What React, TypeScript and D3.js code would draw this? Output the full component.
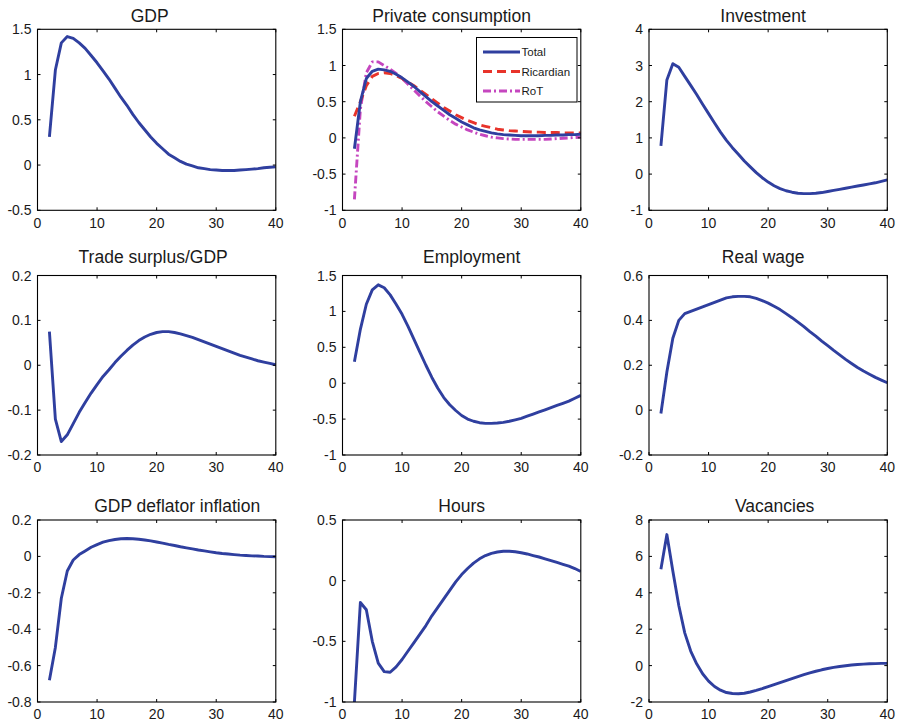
import React from "react";
import * as d3 from "d3";

const periods = d3.range(2, 41);

const gdp = [0.31,1.05,1.35,1.42,1.40,1.35,1.29,1.21,1.13,1.04,0.95,0.85,0.75,0.66,0.56,0.47,0.39,0.31,0.24,0.18,0.12,0.08,0.04,0.01,-0.01,-0.03,-0.04,-0.05,-0.055,-0.06,-0.06,-0.06,-0.055,-0.05,-0.045,-0.04,-0.03,-0.025,-0.02];
const consTotal = [-0.15,0.5,0.82,0.92,0.95,0.94,0.92,0.88,0.83,0.77,0.71,0.64,0.57,0.5,0.44,0.38,0.32,0.27,0.22,0.18,0.14,0.11,0.09,0.07,0.055,0.045,0.04,0.035,0.03,0.03,0.03,0.03,0.035,0.035,0.04,0.04,0.045,0.045,0.05];
const consRicardian = [0.3,0.5,0.72,0.85,0.89,0.9,0.89,0.86,0.82,0.77,0.72,0.66,0.6,0.54,0.48,0.42,0.37,0.32,0.28,0.24,0.21,0.18,0.16,0.14,0.12,0.11,0.1,0.095,0.09,0.085,0.08,0.08,0.075,0.075,0.075,0.07,0.07,0.07,0.07];
const consRoT = [-0.85,0.4,0.9,1.05,1.05,1.0,0.95,0.89,0.82,0.74,0.66,0.58,0.5,0.43,0.36,0.3,0.24,0.19,0.15,0.11,0.08,0.05,0.03,0.01,0.0,-0.01,-0.015,-0.02,-0.02,-0.02,-0.02,-0.02,-0.02,-0.015,-0.01,-0.005,0.0,0.005,0.01];
const investment = [0.78,2.6,3.05,2.95,2.7,2.45,2.2,1.93,1.67,1.41,1.16,0.93,0.73,0.55,0.36,0.2,0.04,-0.1,-0.22,-0.32,-0.4,-0.46,-0.5,-0.53,-0.54,-0.54,-0.53,-0.51,-0.48,-0.45,-0.42,-0.39,-0.36,-0.33,-0.3,-0.27,-0.24,-0.2,-0.16];
const tradeSurplus = [0.075,-0.12,-0.17,-0.155,-0.13,-0.105,-0.083,-0.062,-0.043,-0.025,-0.01,0.006,0.02,0.033,0.045,0.055,0.063,0.069,0.073,0.075,0.075,0.073,0.07,0.066,0.062,0.057,0.052,0.047,0.042,0.037,0.032,0.027,0.022,0.018,0.014,0.01,0.007,0.004,0.001];
const employment = [0.3,0.75,1.1,1.3,1.37,1.33,1.23,1.1,0.96,0.79,0.61,0.43,0.25,0.08,-0.07,-0.2,-0.3,-0.38,-0.45,-0.5,-0.53,-0.55,-0.56,-0.56,-0.555,-0.545,-0.53,-0.51,-0.49,-0.46,-0.43,-0.4,-0.37,-0.34,-0.31,-0.28,-0.25,-0.21,-0.17];
const realWage = [-0.015,0.17,0.32,0.4,0.43,0.44,0.45,0.46,0.47,0.48,0.49,0.5,0.505,0.507,0.507,0.505,0.498,0.488,0.477,0.463,0.448,0.43,0.412,0.392,0.372,0.35,0.33,0.308,0.287,0.266,0.246,0.226,0.208,0.19,0.174,0.16,0.146,0.134,0.122];
const deflatorInflation = [-0.68,-0.5,-0.23,-0.08,-0.02,0.01,0.03,0.05,0.065,0.078,0.087,0.093,0.097,0.098,0.097,0.094,0.09,0.085,0.079,0.073,0.066,0.06,0.053,0.047,0.041,0.035,0.03,0.025,0.02,0.016,0.013,0.01,0.007,0.005,0.003,0.002,0.0,-0.001,-0.002];
const hours = [-1.0,-0.18,-0.24,-0.5,-0.68,-0.75,-0.755,-0.71,-0.65,-0.58,-0.51,-0.44,-0.37,-0.29,-0.22,-0.15,-0.08,-0.01,0.05,0.1,0.145,0.18,0.207,0.225,0.236,0.242,0.243,0.238,0.23,0.22,0.207,0.195,0.18,0.165,0.15,0.135,0.12,0.1,0.075];
const vacancies = [5.3,7.2,5.2,3.3,1.8,0.8,0.1,-0.45,-0.85,-1.15,-1.35,-1.48,-1.53,-1.55,-1.52,-1.45,-1.36,-1.26,-1.15,-1.04,-0.93,-0.82,-0.71,-0.6,-0.5,-0.4,-0.31,-0.23,-0.16,-0.1,-0.05,-0.01,0.03,0.06,0.08,0.1,0.11,0.12,0.12];

const xTicks = [0, 10, 20, 30, 40];
const titles = ["GDP", "Private consumption", "Investment", "Trade surplus/GDP", "Employment", "Real wage", "GDP deflator inflation", "Hours", "Vacancies"];
const yTicksGdp = [-0.5, 0, 0.5, 1, 1.5];
const yTicksCons = [-1, -0.5, 0, 0.5, 1, 1.5];
const yTicksInv = [-1, 0, 1, 2, 3, 4];
const yTicksTrade = [-0.2, -0.1, 0, 0.1, 0.2];
const yTicksEmp = [-1, -0.5, 0, 0.5, 1, 1.5];
const yTicksWage = [-0.2, 0, 0.2, 0.4, 0.6];
const yTicksDefl = [-0.8, -0.6, -0.4, -0.2, 0, 0.2];
const yTicksHours = [-1, -0.5, 0, 0.5];
const yTicksVac = [-2, 0, 2, 4, 6, 8];
const legendLabels = ["Total", "Ricardian", "RoT"];

const BLUE = "#2f3f9f";
const RED = "#e8332a";
const MAGENTA = "#c546bf";

type Series = { values: number[]; color: string; dash?: string };
type Panel = { title: string; ticks: number[]; series: Series[]; titleDx: number; legend?: boolean };

const panels: Panel[] = [
  { title: titles[0], ticks: yTicksGdp, series: [{ values: gdp, color: BLUE }], titleDx: -7 },
  {
    title: titles[1], ticks: yTicksCons, titleDx: -10, legend: true,
    series: [
      { values: consRoT, color: MAGENTA, dash: "8,3,2,3" },
      { values: consRicardian, color: RED, dash: "9,5" },
      { values: consTotal, color: BLUE },
    ],
  },
  { title: titles[2], ticks: yTicksInv, series: [{ values: investment, color: BLUE }], titleDx: -5 },
  { title: titles[3], ticks: yTicksTrade, series: [{ values: tradeSurplus, color: BLUE }], titleDx: -3.5 },
  { title: titles[4], ticks: yTicksEmp, series: [{ values: employment, color: BLUE }], titleDx: 10 },
  { title: titles[5], ticks: yTicksWage, series: [{ values: realWage, color: BLUE }], titleDx: -5 },
  { title: titles[6], ticks: yTicksDefl, series: [{ values: deflatorInflation, color: BLUE }], titleDx: 20.5 },
  { title: titles[7], ticks: yTicksHours, series: [{ values: hours, color: BLUE }], titleDx: 0 },
  { title: titles[8], ticks: yTicksVac, series: [{ values: vacancies, color: BLUE }], titleDx: 6.5 },
];

const colLeft = [37.5, 342.5, 649];
const rowTop = [29.3, 275.5, 520];
const rowH = [181, 179.5, 182];
const titleBase = [22, 263, 512];
const PW = 238.3;
const FONT = "'Liberation Sans', Arial, Helvetica, sans-serif";
const TICK = 3;

function PanelView({ p, i }: { p: Panel; i: number }) {
  const col = i % 3, row = Math.floor(i / 3);
  const left = colLeft[col], top = rowTop[row], h = rowH[row];
  const x = d3.scaleLinear().domain([0, 40]).range([left, left + PW]);
  const y = d3.scaleLinear().domain([p.ticks[0], p.ticks[p.ticks.length - 1]]).range([top + h, top]);
  const line = d3.line<number>().x((_, k) => x(periods[k])).y((v) => y(v));
  const clipId = `clip${i}`;
  return (
    <g>
      <defs>
        <clipPath id={clipId}>
          <rect x={left} y={top} width={PW} height={h} />
        </clipPath>
      </defs>
      <text x={left + PW / 2 + p.titleDx} y={titleBase[row]} textAnchor="middle" fontSize={17.5} fill="#1a1a1a">{p.title}</text>
      <g clipPath={`url(#${clipId})`}>
        {p.series.map((s, k) => (
          <path key={k} d={line(s.values) || ""} fill="none" stroke={s.color} strokeWidth={2.9}
            strokeDasharray={s.dash} strokeLinejoin="round" strokeLinecap="butt" />
        ))}
      </g>
      <rect x={left} y={top} width={PW} height={h} fill="none" stroke="#000" strokeWidth={1.1} />
      {xTicks.map((t) => (
        <g key={"x" + t}>
          <line x1={x(t)} x2={x(t)} y1={top + h} y2={top + h - TICK} stroke="#000" />
          <line x1={x(t)} x2={x(t)} y1={top} y2={top + TICK} stroke="#000" />
          <text x={x(t)} y={top + h + 17.3} textAnchor="middle" fontSize={14} fill="#1a1a1a">{String(t)}</text>
        </g>
      ))}
      {p.ticks.map((t) => (
        <g key={"y" + t}>
          <line x1={left} x2={left + TICK} y1={y(t)} y2={y(t)} stroke="#000" />
          <line x1={left + PW} x2={left + PW - TICK} y1={y(t)} y2={y(t)} stroke="#000" />
          <text x={left - 6} y={y(t) + 5} textAnchor="end" fontSize={14} fill="#1a1a1a">{String(t)}</text>
        </g>
      ))}
      {p.legend && (
        <g>
          <rect x={476.5} y={37.5} width={100.5} height={64.5} fill="#fff" stroke="#000" strokeWidth={1} />
          {[
            { c: BLUE, d: undefined as string | undefined },
            { c: RED, d: "9,5" },
            { c: MAGENTA, d: "8,3,2,3" },
          ].map((e, k) => (
            <g key={k}>
              <line x1={483} x2={520} y1={52 + k * 19.5} y2={52 + k * 19.5} stroke={e.c} strokeWidth={2.9} strokeDasharray={e.d} />
              <text x={521.5} y={52 + k * 19.5 + 4} fontSize={11.5} fill="#1a1a1a">{legendLabels[k]}</text>
            </g>
          ))}
        </g>
      )}
    </g>
  );
}

export default function App() {
  return (
    <svg width={901} height={724} style={{ position: "absolute", left: 0, top: 0, background: "#fff" }} fontFamily={FONT}>
      <rect width={901} height={724} fill="#fff" />
      {panels.map((p, i) => <PanelView key={i} p={p} i={i} />)}
    </svg>
  );
}
